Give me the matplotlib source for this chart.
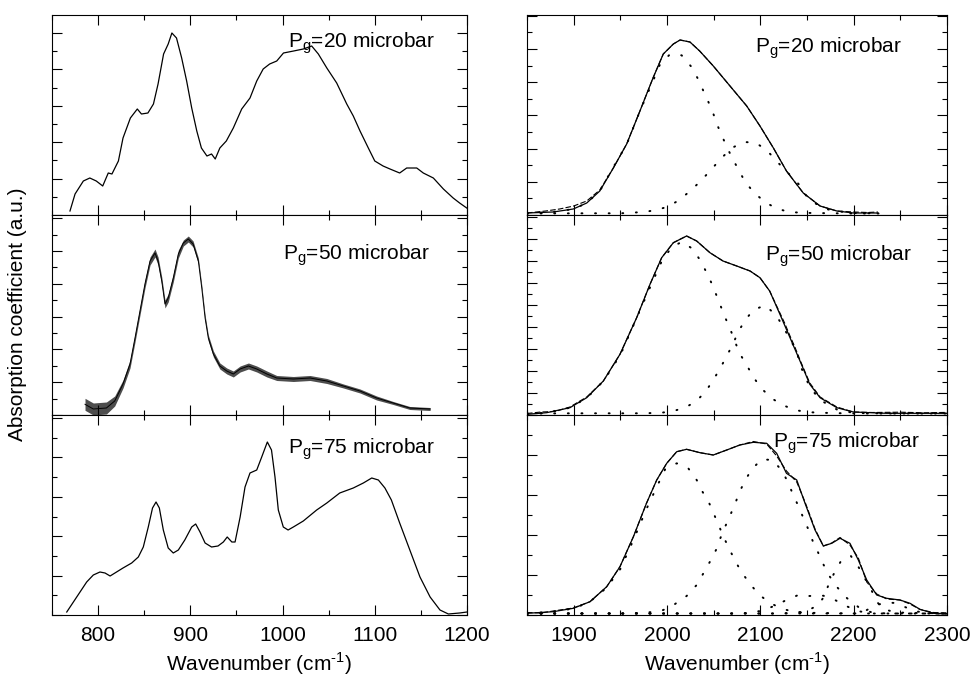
import numpy as np
import matplotlib
matplotlib.use("Agg")
import matplotlib.pyplot as plt
from matplotlib.ticker import MultipleLocator

plt.rcParams["font.family"] = "Liberation Sans"
plt.rcParams["mathtext.fontset"] = "custom"
plt.rcParams["mathtext.rm"] = "Liberation Sans"
plt.rcParams["font.size"] = 15

# ---- left column: full spectra (a.u.) ----
tl_wn = [769.5, 775, 784, 791, 798, 805, 811, 815, 822, 827, 835, 842.5, 847, 854, 860, 865,
         871, 876, 880, 885, 890.6, 896, 901.5, 907, 912, 918, 923, 927, 932, 939, 946.6,
         955.7, 964.7, 972, 979, 986, 993.7, 1001, 1012, 1022.5, 1031.6, 1038.8, 1048,
         1058.7, 1069.6, 1076.7, 1084, 1093, 1100, 1109, 1116.5, 1127, 1134.6, 1145.5,
         1152.6, 1163.5, 1174.4, 1185, 1192, 1199.7]
tl_ab = [4, 21, 34, 37, 34, 29, 42, 41, 54, 77, 97, 106, 101, 102, 111, 131,
         161, 171, 182, 177, 157, 134, 107, 84, 67, 59, 61, 56, 67, 74, 87,
         106, 117, 134, 146, 151, 154, 162, 164, 166, 169, 161, 147,
         132, 111, 99, 84, 67, 54, 49, 46, 42, 47, 47,
         42, 37, 26, 17, 12, 7]

ml_wn = [785.8, 794.8, 809, 818, 827, 834.6, 840, 845.4, 850.8, 856.3, 861.7, 865, 869,
         872.5, 876, 881.5, 887, 892.4, 897.8, 903, 908.7, 912.4, 916, 919.5, 925, 932,
         939.5, 946.6, 954, 963, 972, 983, 993.7, 1011.7, 1029.8, 1048, 1066, 1084,
         1102, 1120, 1138, 1160]
ml_ab = [10.7, 6, 7, 14, 31, 51, 77, 104, 131, 154, 162, 154, 134,
         111, 117, 137, 161, 172, 176, 171, 154, 127, 97, 77, 61, 49,
         44, 41, 46, 49, 46, 41, 37, 36, 37, 34, 29, 24,
         17, 12, 7, 6]
# half height of the interference fringes riding on the spectrum
ml_fringe = [6, 6, 6, 5, 4, 4, 4, 4, 4, 4, 4, 4, 4,
             4, 4, 4, 4, 3, 3, 3, 3, 3, 3, 3, 3, 3,
             3, 3, 3, 3, 3, 3, 2.5, 2.5, 2.5, 2.5, 2, 2,
             2, 1.5, 1.5, 1.5]

bl_wn = [766, 776.8, 787.6, 794.8, 802, 807.5, 813, 820, 827, 836.4, 843.6, 849, 854.4,
         859, 862.8, 866.4, 870.7, 876, 881.5, 887, 894, 901.5, 905.8, 910.5, 916, 923,
         930, 935.8, 940, 945, 948.5, 954, 959.3, 964.7, 972, 977.4, 983.5, 988, 991.8,
         995.4, 1000.8, 1006, 1011.7, 1022.5, 1037, 1048, 1062, 1076.7, 1087.6, 1096.7,
         1103.9, 1111, 1118, 1127, 1138, 1149, 1160, 1170.7, 1179.8, 1192, 1200]
bl_ab = [3, 18, 33, 40, 43, 42, 39, 43, 47, 52, 58, 68, 88,
         107, 113, 107, 85, 67, 62, 65, 75, 88, 91, 83, 72, 68,
         69, 73, 78, 73, 73, 98, 128, 142, 145, 158, 173, 165, 138,
         105, 88, 85, 88, 94, 105, 112, 122, 127, 132, 137,
         135, 127, 115, 92, 65, 38, 18, 5, 1, 2, 3]

# ---- right column: Si-H band with fit (solid), data (dashed), components (dotted) ----
tr_wn = [1850, 1878, 1899.6, 1914, 1928, 1942.5, 1956.8, 1971, 1985, 1996, 2006.8, 2014,
         2024.6, 2035, 2049.6, 2067.5, 2085.4, 2099.6, 2114, 2128, 2146, 2164, 2182,
         2199.6, 2226]
tr_fit = [2, 3, 6, 12, 24, 47, 71, 104, 137, 161, 171, 175,
          173, 164, 149, 129, 109, 89, 67, 44, 22, 9, 4,
          2, 2]
tr_meas_wn = [1850, 1870, 1885, 1900, 1914, 1928, 1942.5, 1956.8, 1971, 1985, 1996, 2006.8,
              2014, 2024.6, 2035, 2049.6, 2067.5, 2085.4, 2099.6, 2114, 2128, 2146, 2164,
              2182, 2200, 2215, 2226]
tr_meas = [2, 4, 6, 9, 14, 25, 47, 71, 104, 137, 161, 171,
           175, 173, 164, 149, 129, 109, 89, 67, 44, 22, 9,
           4, 3, 2.5, 3]
tr_c1_wn = [1850, 1878, 1900, 1914, 1928, 1942, 1957, 1971, 1985, 1992.5, 2003.2, 2015.7,
            2025.4, 2032.5, 2038.2, 2043.6, 2049, 2053.3, 2058.6, 2064, 2070, 2076.4,
            2083.6, 2093.5, 2106, 2118, 2131, 2143.6, 2155, 2200, 2230]
tr_c1 = [1.5, 3, 6, 12, 24, 47, 71, 104, 134, 150.7, 160.7, 159.7,
         149, 137.3, 125.7, 114.7, 103, 91.3, 79.7, 68.3, 56.7, 45.7,
         33.3, 22, 12.3, 6.3, 3, 2.3, 2, 1.5, 1.5]
tr_c2_wn = [1850, 1912, 1925, 1937, 1950, 1962, 1975, 1987, 2000, 2011.5, 2023.6, 2035.4,
            2047, 2058, 2070, 2082.5, 2095, 2107, 2118, 2130, 2142, 2150, 2160, 2170,
            2185, 2200, 2230]
tr_c2 = [1.5, 1.7, 1.7, 1.7, 1.7, 2.3, 3, 4.7, 8, 14, 23, 33.3,
         45, 56.7, 67.3, 73, 72.3, 64.7, 53.3, 41.7, 30, 18, 11, 6,
         3.5, 2, 1.5]

mr_wn = [1850, 1871, 1896, 1914, 1931.8, 1949.6, 1967.5, 1981.8, 1994.3, 2006.8, 2021,
         2031.8, 2046, 2060, 2074.7, 2089, 2099.6, 2110, 2121, 2131.8, 2142.5, 2153,
         2164, 2182, 2199.6, 2235, 2300]
mr_fit = [0.7, 2.3, 7.3, 17.3, 34, 60.7, 97.3, 130.7, 157.3, 172.3, 179,
          174, 162.3, 154, 149, 144, 137.3, 124, 100.7, 77.3, 54, 30.7,
          17.3, 7.3, 3, 1.7, 1.7]
mr_meas_wn = [1850, 1865, 1880, 1896, 1914, 1931.8, 1949.6, 1967.5, 1981.8, 1994.3, 2006.8,
              2021, 2031.8, 2046, 2060, 2074.7, 2089, 2099.6, 2110, 2121, 2126, 2131.8,
              2137, 2142.5, 2153, 2164, 2182, 2199.6, 2220, 2250, 2275, 2300]
mr_meas = [1.5, 3, 3.5, 8, 18, 34, 60.7, 97.3, 130.7, 157.3, 172.3,
           179, 174, 162.3, 154, 149, 144, 137.3, 124, 102, 92, 79,
           68, 55, 32, 18, 8, 3, 2.5, 2.8, 2.2, 2.6]
mr_c1_wn = [1850, 1871, 1896, 1914, 1932, 1950, 1967, 1982, 1994, 2005, 2016.4, 2028,
            2036, 2042.5, 2048, 2053, 2057.9, 2062.9, 2068, 2073, 2078, 2085.4, 2091.8,
            2100.4, 2112, 2124.6, 2137, 2149.7, 2162, 2200, 2300]
mr_c1 = [0.7, 2.3, 7.3, 17, 34, 60, 96, 128, 153, 168, 173.3, 165.7,
         154, 142.3, 131.3, 119.7, 108, 96.3, 85.3, 73, 61.3, 50, 39,
         27.3, 16.7, 9.7, 5, 3, 2.3, 1.5, 1.5]
mr_c2_wn = [1850, 1901.4, 1926.4, 1951.4, 1974.6, 1994.3, 2006.8, 2019.3, 2031.8, 2042.5,
            2050.7, 2057.9, 2064.6, 2071, 2076.4, 2083.6, 2092.5, 2105, 2116.8, 2124.6,
            2131.8, 2139, 2142.5, 2153, 2164, 2182, 2200, 2240, 2300]
mr_c2 = [1.5, 1.7, 1.7, 1.7, 1.7, 2.3, 4, 7.3, 14, 25,
         36.7, 48.3, 60, 71.7, 83.3, 94.7, 105, 109.7, 100, 88,
         75.7, 64, 50, 28, 15, 5.5, 2, 1.5, 1.5]

br_wn = [1850, 1878, 1899.6, 1917.5, 1935.4, 1949.6, 1964, 1978, 1989, 1999.7, 2010.4,
         2021, 2035.4, 2049.6, 2064, 2078, 2092.5, 2106.8, 2117.5, 2128, 2139, 2147.9,
         2158.6, 2167.5, 2176.5, 2185.4, 2196, 2205, 2214, 2224.7, 2235.4, 2249.6,
         2260.4, 2271, 2285.4, 2299.7]
br_fit = [1.7, 3.3, 6.7, 13.3, 28.3, 48.3, 78.3, 111.7, 135, 151.7, 163.3,
          165.7, 162.3, 160, 165, 170, 172.7, 171.7, 161.7, 141.7, 135, 111.7,
          85, 69, 71.7, 76.7, 71.7, 55, 35, 20, 16.7, 15,
          11.7, 5.7, 1.7, 1]
br_meas_wn = [1850, 1865, 1878, 1899.6, 1917.5, 1935.4, 1949.6, 1964, 1978, 1989, 1999.7,
              2010.4, 2021, 2035.4, 2049.6, 2064, 2078, 2092.5, 2106.8, 2117.5, 2128,
              2139, 2147.9, 2158.6, 2167.5, 2176.5, 2185.4, 2196, 2205, 2214, 2224.7,
              2235.4, 2249.6, 2260.4, 2271, 2285.4, 2299.7]
br_meas = [2.5, 2, 4, 7, 13.3, 28.3, 48.3, 78.3, 111.7, 135, 151.7,
           163.3, 165.7, 162.3, 160, 165, 170, 173.5, 171, 159, 144,
           133, 113, 86, 69, 72, 77.5, 70, 57, 33, 21,
           16, 15, 11, 5.5, 2.5, 2]
br_c1_wn = [1850, 1878, 1900, 1917, 1935, 1950, 1964, 1978, 1989, 1998, 2010.4, 2022.8,
            2031.8, 2038, 2045, 2050.7, 2055.7, 2061, 2066.8, 2072.9, 2080, 2089, 2099,
            2111, 2124, 2136, 2146, 2200, 2300]
br_c1 = [1.7, 3.3, 6.5, 13, 27, 46, 75, 106, 128, 145.7, 151.7, 146.7,
         135, 123.3, 112.3, 100, 89, 77.3, 66, 54.3, 42.7, 31, 20,
         11.7, 6, 3.3, 2.3, 1.5, 1.5]
br_c2_wn = [1850, 1960, 1985, 1996, 2008.6, 2021, 2031.8, 2039, 2046, 2052.5, 2056.8, 2062,
            2067.5, 2072.9, 2077.5, 2083.6, 2090.7, 2101.5, 2113, 2123.6, 2130, 2135.3,
            2140.7, 2146, 2151.4, 2156, 2162, 2167.5, 2174, 2181.8, 2193, 2205, 2218,
            2235, 2300]
br_c2 = [1.5, 1.5, 3, 5, 11, 19, 30, 41.7, 53.3, 65, 76, 87.7,
         99.3, 111, 122.7, 134.3, 145.7, 155.7, 155, 144, 131.7, 120,
         109, 97.3, 85.7, 74.3, 62.3, 50.7, 39, 28.3, 16.7, 8, 3,
         1.5, 1.5]
br_c3_wn = [1850, 2120, 2140, 2152, 2162, 2168, 2173, 2179, 2186, 2196.8, 2205, 2212,
            2219, 2224.7, 2232, 2245, 2300]
br_c3 = [1.5, 1.5, 2.5, 5, 10, 18, 30, 41.7, 53.3, 59.3, 48.3, 36.7,
         25, 13.3, 6, 2.5, 1.5]
br_c4_wn = [1850, 2080, 2100, 2115, 2128, 2140.7, 2151.4, 2167.5, 2180, 2192, 2204, 2220,
            2300]
br_c4 = [1.5, 1.5, 4, 9, 15, 20, 19, 19.3, 15, 9, 4, 1.5,
         1.5]
br_c5_wn = [1850, 2200, 2212, 2224.7, 2235, 2245, 2255, 2265, 2278, 2300]
br_c5 = [1.5, 1.5, 4, 10, 12.5, 12, 8, 4, 2, 1.5]

labels = ["20", "50", "75"]

fig = plt.figure(figsize=(9.71, 6.77), dpi=100)
bottom0 = 1 - 615 / 677.
h = 200 / 677.
left_x, left_w = 52 / 971., 415 / 971.
right_x, right_w = 527 / 971., 420 / 971.

axL = [fig.add_axes([left_x, bottom0 + (2 - i) * h, left_w, h]) for i in range(3)]
axR = [fig.add_axes([right_x, bottom0 + (2 - i) * h, right_w, h]) for i in range(3)]

lw = 0.9
axL[0].plot(tl_wn, tl_ab, '-', color='k', lw=lw)
ml_lo = np.array(ml_ab) - np.array(ml_fringe)
ml_hi = np.array(ml_ab) + np.array(ml_fringe)
axL[1].fill_between(ml_wn, ml_lo, ml_hi, color='0.3', lw=0)
axL[1].plot(ml_wn, ml_ab, '-', color='k', lw=0.7)
axL[2].plot(bl_wn, bl_ab, '-', color='k', lw=lw)

dots = dict(color='k', lw=1.4, linestyle=(0, (0.5, 6.5)), dash_capstyle='round')
dash = dict(color='k', lw=0.8, linestyle=(0, (5, 2)))

axR[0].plot(tr_meas_wn, tr_meas, **dash)
axR[0].plot(tr_wn, tr_fit, '-', color='k', lw=lw)
axR[0].plot(tr_c1_wn, tr_c1, **dots)
axR[0].plot(tr_c2_wn, tr_c2, **dots)

axR[1].plot(mr_meas_wn, mr_meas, **dash)
axR[1].plot(mr_wn, mr_fit, '-', color='k', lw=lw)
axR[1].plot(mr_c1_wn, mr_c1, **dots)
axR[1].plot(mr_c2_wn, mr_c2, **dots)

axR[2].plot(br_meas_wn, br_meas, **dash)
axR[2].plot(br_wn, br_fit, '-', color='k', lw=lw)
for cw, cv in [(br_c1_wn, br_c1), (br_c2_wn, br_c2), (br_c3_wn, br_c3),
               (br_c4_wn, br_c4), (br_c5_wn, br_c5)]:
    axR[2].plot(cw, cv, **dots)

# y tick spacing (pixels of each panel)
ystepL = [18.2, 16.4, 19.7]
ystepR = [16.6, 11, 20]

for i in range(3):
    for ax, xl, ys in [(axL[i], (750, 1200), ystepL[i]), (axR[i], (1850, 2300), ystepR[i])]:
        ax.set_xlim(*xl)
        ax.set_ylim(0, 200)
        ax.xaxis.set_major_locator(MultipleLocator(100))
        ax.xaxis.set_minor_locator(MultipleLocator(50))
        ax.yaxis.set_major_locator(MultipleLocator(2 * ys))
        ax.yaxis.set_minor_locator(MultipleLocator(ys))
        ax.tick_params(which='both', direction='in', top=True, right=True,
                       labelleft=False, labelbottom=(i == 2), labelsize=15, pad=8)
        ax.tick_params(which='major', length=7, width=0.8)
        ax.tick_params(which='minor', length=3.5, width=0.8)
        for s in ax.spines.values():
            s.set_linewidth(0.8)
        if i == 2:
            ax.set_xlabel('Wavenumber (cm$^{\\mathregular{\u2010}1}$)', fontsize=15, labelpad=4)

txt_pos_L = [(0.569, 0.839), (0.557, 0.78), (0.569, 0.806)]
txt_pos_R = [(0.543, 0.814), (0.567, 0.775), (0.586, 0.836)]
for i in range(3):
    s = r'P$_{\mathregular{g}}$=' + labels[i] + ' microbar'
    axL[i].text(txt_pos_L[i][0], txt_pos_L[i][1], s, transform=axL[i].transAxes,
                fontsize=15, va='baseline', ha='left')
    axR[i].text(txt_pos_R[i][0], txt_pos_R[i][1], s, transform=axR[i].transAxes,
                fontsize=15, va='baseline', ha='left')

fig.text(0.0185, 0.536, 'Absorption coefficient (a.u.)', rotation=90,
         va='center', ha='center', fontsize=15)

fig.savefig('out.png', dpi=100)
